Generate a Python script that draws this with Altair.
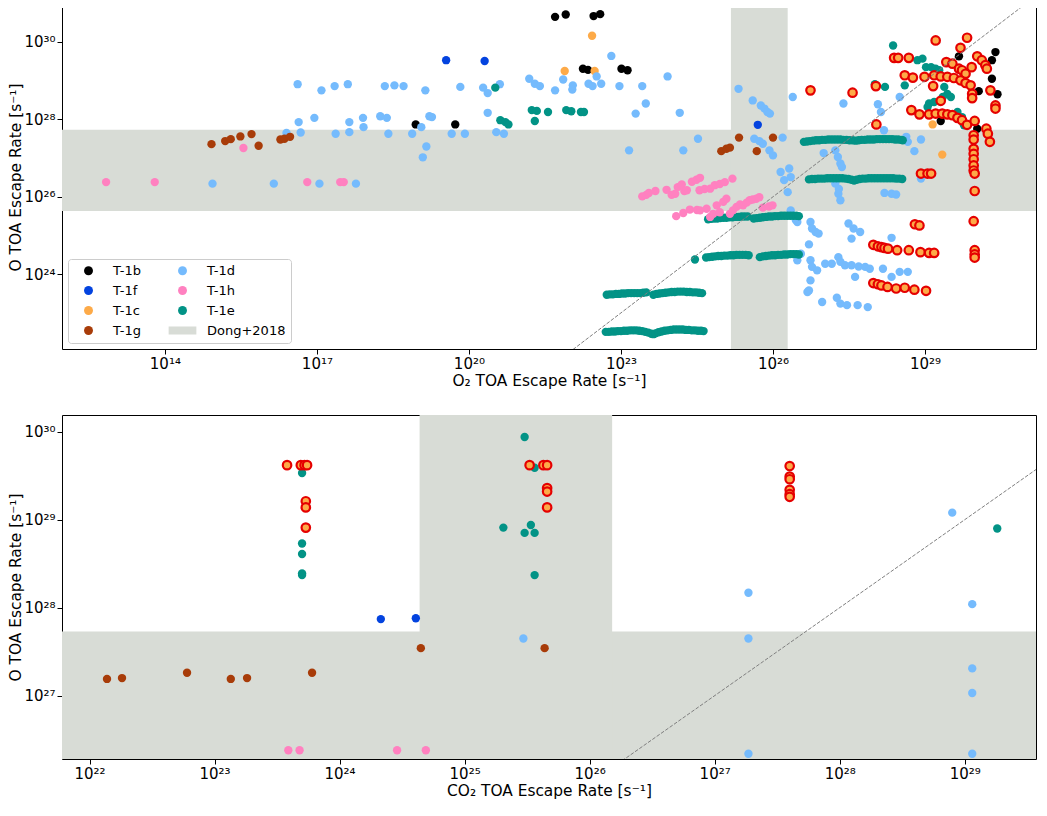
import altair as alt
import pandas as pd

FONT = "DejaVu Sans"

# ---------------- legend / colours ----------------
BAND_NAME = "Dong+2018"
LEGEND_ORDER = ["T-1b", "T-1f", "T-1c", "T-1g", "T-1d", "T-1h", "T-1e", "Dong+2018"]
LEGEND_COLORS = ["#000000", "#0343df", "#fdaa48", "#a83c09", "#75bbfd", "#ff81c0", "#029386", "#d8dcd6"]
RECT_PATH = "M-3.1,-0.9H3.1V0.9H-3.1Z"
LEGEND_SHAPES = ["circle", "circle", "circle", "circle", "circle", "circle", "circle", RECT_PATH]
HL_FILL = "#fdaa48"
HL_EDGE = "#e50000"

# ---------------- top panel: (log10 O2 escape, log10 O escape) ----------------
TOP_T1B = [(21.70, 30.65), (21.91, 30.71), (22.46, 30.67), (22.59, 30.72), (22.25, 29.31), (22.35, 29.28),
           (23.01, 29.31), (23.13, 29.27), (18.95, 27.87), (19.73, 27.87), (29.67, 29.63), (30.39, 29.74),
           (30.32, 29.53), (30.32, 29.05), (30.06, 28.73), (30.43, 28.65), (29.31, 27.96), (30.03, 27.76)]
TOP_T1C = [(22.43, 30.16), (21.89, 29.25), (22.48, 29.25), (29.15, 27.87), (29.34, 27.09)]
TOP_T1D = [(16.62, 28.91), (17.09, 28.75), (17.35, 28.86), (17.61, 28.91), (18.34, 28.86), (18.53, 28.88),
           (18.71, 28.86), (19.14, 28.75), (19.83, 28.84), (20.28, 28.82), (20.37, 28.68), (20.61, 28.91),
           (21.19, 29.05), (21.30, 28.92), (21.40, 28.86), (21.70, 28.75),
           (16.64, 27.93), (16.95, 28.04), (17.64, 27.93), (17.91, 28.04), (18.25, 28.08), (18.38, 28.04),
           (19.22, 28.08), (19.27, 28.06), (20.37, 28.17),
           (16.40, 27.65), (16.68, 27.66), (17.37, 27.63), (17.64, 27.67), (17.92, 27.80), (18.41, 27.63),
           (18.88, 27.63), (19.06, 27.80), (19.16, 27.30), (19.09, 27.02), (19.66, 27.63), (19.92, 27.63),
           (20.54, 27.67), (20.69, 27.63),
           (14.94, 26.34), (16.15, 26.34), (17.05, 26.34), (17.77, 26.34),
           (22.81, 29.64), (21.86, 29.03), (22.05, 28.88), (22.04, 28.77), (22.36, 28.92), (22.44, 28.86),
           (22.52, 29.11), (22.61, 28.92), (22.97, 28.86), (23.42, 28.86), (23.92, 29.11), (23.49, 28.41),
           (23.29, 28.15), (24.16, 28.17), (25.32, 28.79), (25.60, 28.49), (25.76, 28.36), (25.83, 28.28),
           (25.89, 28.19), (25.94, 28.15), (26.19, 27.53), (25.63, 27.50), (25.73, 27.44), (25.80, 27.37),
           (25.93, 27.20), (26.00, 27.07), (24.52, 27.50), (24.23, 27.20), (23.16, 27.20),
           (26.39, 28.58), (27.39, 28.41), (28.07, 28.39), (28.13, 28.19), (28.50, 28.58), (28.19, 27.72),
           (28.63, 27.55), (28.66, 27.42), (28.92, 27.48), (28.79, 27.18), (27.00, 27.13), (27.23, 27.20),
           (27.28, 27.03), (27.33, 26.86), (27.36, 26.77), (26.15, 26.64), (26.32, 26.73), (26.35, 26.51),
           (26.22, 26.43), (26.29, 26.12), (27.23, 26.34), (27.30, 26.20), (27.29, 26.08), (27.33, 25.91),
           (28.20, 26.10), (28.34, 26.08), (28.43, 26.06), (28.92, 26.47), (26.35, 25.65),
           (26.45, 25.40), (26.48, 25.35), (26.74, 25.35), (26.77, 25.18), (26.84, 25.09), (26.90, 25.05),
           (26.71, 24.77), (26.55, 24.53), (26.48, 24.36), (26.74, 24.36), (26.77, 24.19), (26.87, 24.10),
           (26.74, 23.84), (26.71, 23.58), (26.68, 23.54), (27.03, 24.27), (27.16, 24.27), (27.29, 24.44),
           (27.33, 24.32), (27.42, 24.23), (27.55, 24.23), (27.69, 24.20), (27.82, 24.19), (27.91, 24.14),
           (27.62, 23.93), (27.49, 25.31), (27.59, 25.18), (27.72, 25.09), (27.55, 24.92), (28.34, 24.94),
           (28.17, 24.14), (28.34, 23.93), (28.50, 24.06), (28.66, 24.06), (26.97, 23.28), (27.26, 23.39),
           (27.33, 23.24), (27.46, 23.20), (27.67, 23.20), (27.87, 23.15)]
TOP_T1E = [(20.52, 28.82), (20.62, 27.98), (20.72, 27.93), (20.78, 27.87), (21.24, 28.24), (21.34, 28.22),
           (21.30, 27.96), (21.56, 28.19), (21.92, 28.24), (22.02, 28.21), (22.21, 28.19), (22.27, 28.19),
           (24.46, 24.38),
           (28.37, 29.91), (28.85, 29.53), (28.95, 29.57), (29.02, 29.35), (29.12, 29.35), (29.21, 29.31),
           (29.28, 29.27), (28.01, 28.91), (28.21, 28.84), (28.60, 28.88), (29.38, 28.84), (29.44, 28.66),
           (29.51, 28.58), (29.35, 28.58), (29.08, 28.41), (29.18, 28.45), (29.05, 28.32), (29.64, 28.19),
           (29.73, 28.06), (29.77, 27.85)]
TOP_T1E_RUN_A = [(22.70, 22.51), (22.76, 22.51), (22.82, 22.52), (22.88, 22.52), (22.94, 22.53), (23.00, 22.53),
                 (23.06, 22.54), (23.12, 22.54), (23.18, 22.55), (23.24, 22.55), (23.30, 22.55), (23.36, 22.54),
                 (23.42, 22.53), (23.48, 22.51), (23.54, 22.49), (23.60, 22.46), (23.64, 22.45), (23.68, 22.47),
                 (23.74, 22.50), (23.80, 22.52), (23.86, 22.54), (23.92, 22.55), (23.98, 22.56), (24.04, 22.57),
                 (24.10, 22.57), (24.16, 22.57), (24.22, 22.57), (24.28, 22.56), (24.34, 22.56), (24.40, 22.55),
                 (24.46, 22.55), (24.52, 22.54), (24.58, 22.54), (24.63, 22.53)]
TOP_T1E_RUN_B = [(22.72, 23.47), (22.78, 23.48), (22.84, 23.48), (22.90, 23.49), (22.96, 23.49), (23.02, 23.50),
                 (23.08, 23.50), (23.14, 23.51), (23.20, 23.51), (23.26, 23.51), (23.32, 23.51), (23.38, 23.51),
                 (23.44, 23.52), (23.50, 23.53), (23.64, 23.47), (23.70, 23.49), (23.76, 23.50), (23.82, 23.51),
                 (23.88, 23.52), (23.94, 23.53), (24.00, 23.54), (24.06, 23.54), (24.12, 23.55), (24.18, 23.55),
                 (24.24, 23.55), (24.30, 23.54), (24.36, 23.54), (24.42, 23.53), (24.48, 23.53), (24.54, 23.52),
                 (24.60, 23.51)]
TOP_T1E_RUN_C = [(24.68, 24.43), (24.74, 24.44), (24.80, 24.45), (24.86, 24.46), (24.92, 24.47), (24.98, 24.47),
                 (25.04, 24.48), (25.10, 24.48), (25.16, 24.49), (25.22, 24.49), (25.28, 24.50), (25.34, 24.50),
                 (25.40, 24.50), (25.46, 24.50), (25.52, 24.49), (25.74, 24.44), (25.80, 24.46), (25.86, 24.47),
                 (25.92, 24.48), (25.98, 24.49), (26.04, 24.49), (26.10, 24.50), (26.16, 24.50), (26.22, 24.51),
                 (26.28, 24.51), (26.34, 24.52), (26.40, 24.52), (26.46, 24.52), (26.51, 24.51)]
TOP_T1E_RUN_D = [(24.72, 25.42), (24.78, 25.43), (24.84, 25.44), (24.90, 25.44), (24.96, 25.45), (25.02, 25.46),
                 (25.08, 25.46), (25.14, 25.47), (25.20, 25.47), (25.26, 25.48), (25.32, 25.48), (25.38, 25.49),
                 (25.44, 25.49), (25.50, 25.49), (25.62, 25.44), (25.68, 25.45), (25.74, 25.46), (25.80, 25.47),
                 (25.86, 25.48), (25.92, 25.49), (25.98, 25.49), (26.04, 25.50), (26.10, 25.50), (26.16, 25.51),
                 (26.22, 25.51), (26.28, 25.51), (26.34, 25.51), (26.40, 25.51), (26.46, 25.51), (26.51, 25.50)]
TOP_T1E_RUN_E = [(26.71, 26.45), (26.77, 26.46), (26.83, 26.46), (26.89, 26.47), (26.95, 26.47), (27.01, 26.47),
                 (27.07, 26.48), (27.13, 26.48), (27.19, 26.48), (27.25, 26.48), (27.31, 26.48), (27.37, 26.48),
                 (27.43, 26.47), (27.49, 26.46), (27.55, 26.44), (27.60, 26.42), (27.65, 26.44), (27.71, 26.46),
                 (27.77, 26.47), (27.83, 26.47), (27.89, 26.48), (27.95, 26.48), (28.01, 26.48), (28.07, 26.48),
                 (28.13, 26.48), (28.19, 26.48), (28.25, 26.48), (28.31, 26.48), (28.37, 26.48), (28.43, 26.47),
                 (28.49, 26.47), (28.55, 26.46)]
TOP_T1E_RUN_F = [(26.61, 27.42), (26.67, 27.43), (26.73, 27.44), (26.79, 27.45), (26.85, 27.46), (26.91, 27.46),
                 (26.97, 27.47), (27.03, 27.47), (27.09, 27.48), (27.15, 27.48), (27.21, 27.48), (27.27, 27.48),
                 (27.33, 27.48), (27.39, 27.47), (27.45, 27.47), (27.51, 27.46), (27.57, 27.46), (27.63, 27.45),
                 (27.69, 27.46), (27.75, 27.47), (27.81, 27.47), (27.87, 27.48), (27.93, 27.48), (27.99, 27.48),
                 (28.05, 27.49), (28.11, 27.49), (28.17, 27.49), (28.23, 27.49), (28.29, 27.49), (28.35, 27.49),
                 (28.41, 27.48), (28.47, 27.48), (28.53, 27.47), (28.56, 27.46)]
TOP_T1F = [(19.55, 29.53), (20.31, 29.51), (25.70, 27.86)]
TOP_T1G = [(14.92, 27.36), (15.19, 27.44), (15.30, 27.49), (15.49, 27.56), (15.71, 27.62), (15.85, 27.32),
           (16.28, 27.48), (16.36, 27.50), (16.47, 27.55), (24.98, 27.18), (25.08, 27.24), (25.15, 27.27),
           (25.33, 27.53), (25.68, 27.18), (26.00, 27.53)]
TOP_T1H = [(12.84, 26.38), (13.80, 26.38), (15.55, 27.26), (16.81, 26.38), (17.46, 26.38), (17.53, 26.38),
           (23.42, 26.01), (23.50, 26.05), (23.55, 26.10), (23.68, 26.15), (23.90, 26.18), (24.00, 26.05),
           (24.07, 26.08), (24.12, 26.25), (24.20, 26.32), (24.25, 26.15), (24.30, 26.17), (24.40, 26.39),
           (24.49, 26.44), (24.56, 26.49), (24.55, 26.17), (24.65, 26.20), (24.76, 26.21), (24.85, 26.30),
           (24.95, 26.33), (25.05, 26.38), (25.20, 26.47),
           (24.09, 25.50), (24.23, 25.58), (24.36, 25.67), (24.50, 25.66), (24.56, 25.65), (24.69, 25.69),
           (24.76, 25.48), (24.82, 25.56), (24.89, 25.78), (24.95, 25.60), (25.02, 25.87), (25.08, 25.95),
           (25.15, 25.56), (25.21, 25.65), (25.28, 25.74), (25.35, 25.80), (25.41, 25.78), (25.48, 25.85),
           (25.54, 25.91), (25.60, 25.93), (25.67, 25.95), (25.73, 25.99), (25.80, 25.72), (25.92, 25.75),
           (25.99, 25.78)]
TOP_HIGHLIGHT = [(26.74, 28.75), (27.57, 28.69), (28.03, 28.86), (28.04, 27.87), (28.39, 29.59), (28.47, 29.59),
                 (28.68, 29.59), (29.21, 30.04), (29.83, 30.11), (29.70, 29.85), (29.42, 29.48), (29.54, 29.44),
                 (29.67, 29.31), (29.73, 29.27), (29.80, 29.18), (30.03, 29.63), (30.12, 29.53), (30.19, 29.40),
                 (30.22, 29.31), (29.92, 29.35),
                 (28.60, 29.14), (28.76, 29.08), (28.99, 29.10), (29.18, 29.14), (29.31, 29.11), (29.44, 29.10),
                 (29.57, 29.07), (29.70, 29.01), (29.80, 28.94), (29.90, 28.88), (29.93, 28.66), (29.93, 28.55),
                 (29.16, 28.86), (30.29, 28.75), (30.39, 28.36), (30.39, 28.28), (29.31, 28.48),
                 (28.73, 28.24), (28.89, 28.13), (29.08, 28.13), (29.21, 28.15), (29.34, 28.15), (29.44, 28.13),
                 (29.54, 28.11), (29.64, 28.04), (29.73, 27.98), (29.83, 27.86), (29.98, 27.96), (30.21, 27.76),
                 (30.24, 27.63), (30.28, 27.42),
                 (29.96, 27.59), (29.96, 27.48), (29.96, 27.24), (29.96, 27.11), (29.96, 26.97), (29.96, 26.81),
                 (29.96, 26.68), (28.92, 26.60), (29.05, 26.60), (29.12, 26.60), (29.98, 26.60), (29.98, 26.15),
                 (29.96, 25.37), (29.98, 24.62), (29.98, 24.51), (29.98, 24.43), (28.80, 25.29), (28.89, 25.26),
                 (27.98, 24.76), (28.07, 24.72), (28.14, 24.70), (28.20, 24.68), (28.27, 24.66), (28.45, 24.62),
                 (28.68, 24.62), (28.91, 24.57), (29.08, 24.55), (29.18, 24.55),
                 (27.98, 23.77), (28.07, 23.74), (28.14, 23.71), (28.26, 23.67), (28.43, 23.63), (28.60, 23.65),
                 (28.79, 23.60), (29.02, 23.57)]

# ---------------- bottom panel: (log10 CO2 escape, log10 O escape) ----------------
BOT_T1D = [(25.47, 27.65), (27.27, 28.17), (27.27, 27.65), (27.27, 26.34), (28.90, 29.08), (29.06, 28.04),
           (29.06, 27.31), (29.06, 27.03), (29.06, 26.34)]
BOT_T1E = [(25.48, 29.94), (23.70, 29.53), (23.70, 28.73), (23.70, 28.61), (23.70, 28.37), (23.70, 28.39),
           (25.31, 28.91), (25.53, 28.94), (25.48, 28.85), (25.56, 28.85), (25.56, 28.37), (25.56, 29.59),
           (29.26, 28.90)]
BOT_T1F = [(24.33, 27.87), (24.61, 27.88)]
BOT_T1G = [(22.14, 27.19), (22.26, 27.20), (22.78, 27.26), (23.13, 27.19), (23.26, 27.20), (23.78, 27.26),
           (24.65, 27.54), (25.64, 27.54)]
BOT_T1H = [(23.59, 26.38), (23.68, 26.38), (24.46, 26.38), (24.69, 26.38)]
BOT_HIGHLIGHT = [(23.58, 29.62), (23.69, 29.62), (23.72, 29.62), (23.74, 29.62), (23.73, 29.21), (23.73, 29.14),
                 (23.73, 28.91), (25.52, 29.62), (25.63, 29.62), (25.66, 29.62), (25.66, 29.36), (25.66, 29.32),
                 (25.66, 29.14), (27.60, 29.61), (27.60, 29.49), (27.60, 29.46), (27.60, 29.34), (27.60, 29.29),
                 (27.60, 29.26)]

# Dong+2018 ranges (log10)
DONG_O = [25.63, 27.73]
DONG_O2 = [25.17, 26.29]
DONG_CO2 = [24.64, 26.18]

# axes (log10)
TOP_X_DOMAIN = [11.97, 31.19]
TOP_Y_DOMAIN = [22.067, 30.956]
BOT_X_DOMAIN = [21.78, 29.57]
BOT_Y_DOMAIN = [26.28, 30.19]
TOP_X_TICKS = [14, 17, 20, 23, 26, 29]
TOP_Y_TICKS = [24, 26, 28, 30]
BOT_X_TICKS = [22, 23, 24, 25, 26, 27, 28, 29]
BOT_Y_TICKS = [27, 28, 29, 30]
ONE_TO_ONE = [10.0, 33.0]


def p(v):
    return 10.0 ** v


def rows(pairs, group):
    return [{"x": p(a), "y": p(b), "group": group} for a, b in pairs]


top_points = pd.DataFrame(
    rows(TOP_T1B, "T-1b") + rows(TOP_T1C, "T-1c") + rows(TOP_T1D, "T-1d")
    + rows(TOP_T1E + TOP_T1E_RUN_A + TOP_T1E_RUN_B + TOP_T1E_RUN_C + TOP_T1E_RUN_D + TOP_T1E_RUN_E + TOP_T1E_RUN_F, "T-1e")
    + rows(TOP_T1F, "T-1f") + rows(TOP_T1G, "T-1g") + rows(TOP_T1H, "T-1h")
)
bot_points = pd.DataFrame(
    rows(BOT_T1D, "T-1d") + rows(BOT_T1E, "T-1e") + rows(BOT_T1F, "T-1f")
    + rows(BOT_T1G, "T-1g") + rows(BOT_T1H, "T-1h")
)
top_hl = pd.DataFrame(rows(TOP_HIGHLIGHT, "hl"))
bot_hl = pd.DataFrame(rows(BOT_HIGHLIGHT, "hl"))

top_bands = pd.DataFrame([
    {"x": p(TOP_X_DOMAIN[0]), "x2": p(TOP_X_DOMAIN[1]), "y": p(DONG_O[0]), "y2": p(DONG_O[1]), "group": BAND_NAME},
    {"x": p(DONG_O2[0]), "x2": p(DONG_O2[1]), "y": p(TOP_Y_DOMAIN[0]), "y2": p(TOP_Y_DOMAIN[1]), "group": BAND_NAME},
])
bot_bands = pd.DataFrame([
    {"x": p(BOT_X_DOMAIN[0]), "x2": p(BOT_X_DOMAIN[1]), "y": p(DONG_O[0]), "y2": p(DONG_O[1]), "group": BAND_NAME},
    {"x": p(DONG_CO2[0]), "x2": p(DONG_CO2[1]), "y": p(BOT_Y_DOMAIN[0]), "y2": p(BOT_Y_DOMAIN[1]), "group": BAND_NAME},
])
line_df = pd.DataFrame({"x": [p(v) for v in ONE_TO_ONE], "y": [p(v) for v in ONE_TO_ONE]})

SUPS = "['⁰','¹','²','³','⁴','⁵','⁶','⁷','⁸','⁹']"
EXP = "round(log(datum.value)/LN10)"
LABEL_EXPR = f"'10' + {SUPS}[floor({EXP}/10)] + {SUPS}[{EXP}%10]"

AXIS_STYLE = dict(
    labelExpr=LABEL_EXPR, labelFont=FONT, labelFontSize=15, labelColor="black",
    titleFont=FONT, titleFontSize=15.4, titleFontWeight="normal", titleColor="black",
    tickColor="black", tickSize=5, tickWidth=1, domain=False, grid=False,
    labelOverlap=False, labelFlush=False,
)

legend = alt.Legend(
    title=None, orient="bottom-left", offset=6, columns=2,
    fillColor="white", strokeColor="#cccccc", cornerRadius=3, padding=5,
    labelFont=FONT, labelFontSize=13, labelColor="black",
    symbolSize=80, symbolOffset=9, labelOffset=18, rowPadding=6, columnPadding=26,
    symbolStrokeWidth=0, symbolOpacity=1,
)


def panel(points, hl, bands, xdom, ydom, xticks, yticks, xtitle, h, show_legend):
    xs = alt.Scale(type="log", domain=[p(xdom[0]), p(xdom[1])], nice=False)
    ys = alt.Scale(type="log", domain=[p(ydom[0]), p(ydom[1])], nice=False)
    xax = alt.Axis(values=[p(v) for v in xticks], title=xtitle, labelPadding=2, titlePadding=2, **AXIS_STYLE)
    yax = alt.Axis(values=[p(v) for v in yticks], title="O TOA Escape Rate [s⁻¹]", labelPadding=2,
                   titlePadding=0, **AXIS_STYLE)
    lg = legend if show_legend else None
    color = alt.Color("group:N", scale=alt.Scale(domain=LEGEND_ORDER, range=LEGEND_COLORS), legend=lg)
    shape = alt.Shape("group:N", scale=alt.Scale(domain=LEGEND_ORDER, range=LEGEND_SHAPES), legend=lg)
    X = alt.X("x:Q", scale=xs, axis=xax)
    Y = alt.Y("y:Q", scale=ys, axis=yax)

    band_layer = alt.Chart(bands).mark_rect(clip=True, strokeWidth=0).encode(
        x=X, x2="x2:Q", y=Y, y2="y2:Q", color=color)
    pts = alt.Chart(points).mark_point(filled=True, opacity=1, size=70, clip=True).encode(
        x=X, y=Y, color=color, shape=shape)
    hls = alt.Chart(hl).mark_point(filled=True, opacity=1, size=72, fill=HL_FILL, stroke=HL_EDGE,
                                   strokeWidth=2.2, shape="circle", clip=True).encode(x=X, y=Y)
    line = alt.Chart(line_df).mark_line(color="#808080", strokeWidth=1, strokeDash=[3.7, 1.6], clip=True).encode(
        x=X, y=Y)
    return alt.layer(band_layer, pts, hls, line).properties(width=974, height=h)


top = panel(top_points, top_hl, top_bands, TOP_X_DOMAIN, TOP_Y_DOMAIN, TOP_X_TICKS, TOP_Y_TICKS,
            "O₂ TOA Escape Rate [s⁻¹]", 344, True)
bottom = panel(bot_points, bot_hl, bot_bands, BOT_X_DOMAIN, BOT_Y_DOMAIN, BOT_X_TICKS, BOT_Y_TICKS,
               "CO₂ TOA Escape Rate [s⁻¹]", 344, False)

chart = (
    alt.vconcat(top, bottom, spacing=25)
    .resolve_scale(color="independent", shape="independent")
    .resolve_legend(color="independent", shape="independent")
    .properties(padding={"left": 0, "top": -4, "right": 0, "bottom": 0})
    .configure_view(stroke="black", strokeWidth=1)
)

chart.save("out.html", embed_options={"renderer": "svg", "actions": False})
